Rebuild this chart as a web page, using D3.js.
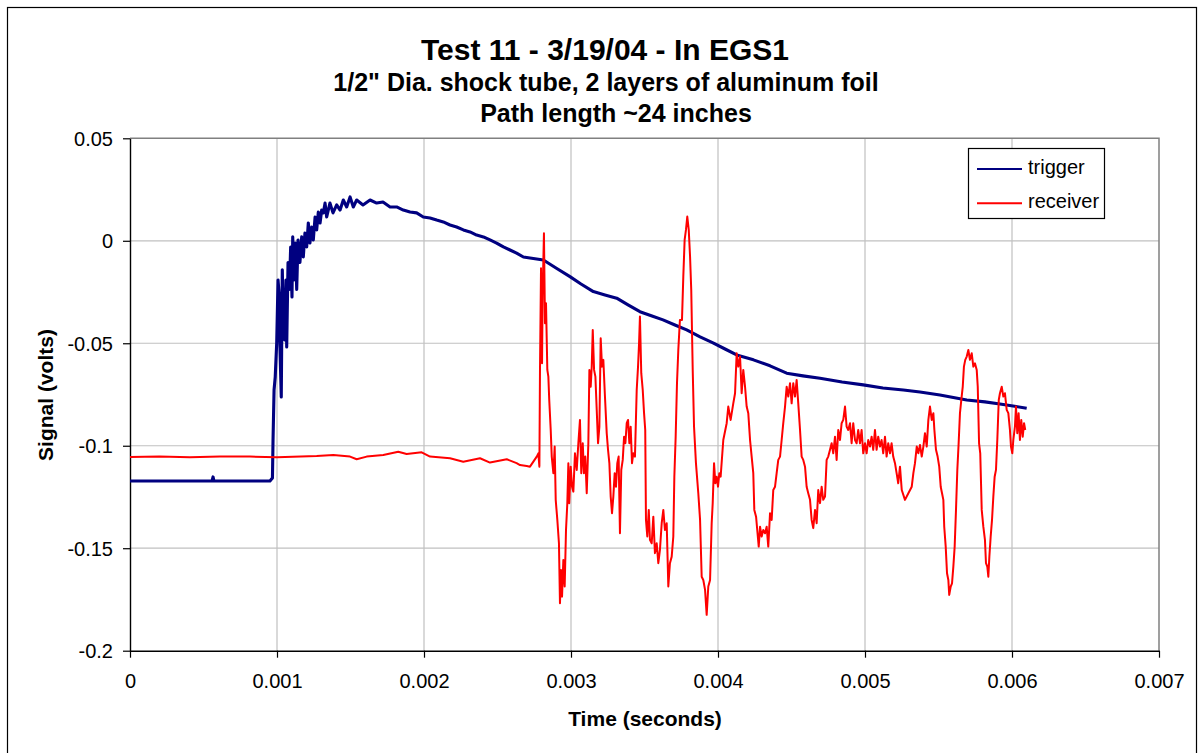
<!DOCTYPE html>
<html>
<head>
<meta charset="utf-8">
<script src="https://cdn.jsdelivr.net/npm/d3@7"></script>
<style>
  body { margin: 0; background: #fff; }
  svg { font-family: "Liberation Sans", Arial, sans-serif; }
  .tick text { font-size: 20px; fill: #000; }
</style>
</head>
<body>
<script>
// titles and labels
var titleLines = ["Test 11 - 3/19/04 - In EGS1", "1/2\" Dia. shock tube, 2 layers of aluminum foil", "Path length ~24 inches"];
var xTitle = "Time (seconds)";
var yTitle = "Signal (volts)";
var seriesNames = ["trigger", "receiver"];
var seriesColors = ["#000080", "#ff0000"];
var xTicks = [0, 0.001, 0.002, 0.003, 0.004, 0.005, 0.006, 0.007];
var yTicks = [-0.2, -0.15, -0.1, -0.05, 0, 0.05];

// trigger : time in microseconds, signal in millivolts
var triggerTimeUs = [0, 558, 565, 571, 952, 969, 973, 980, 988, 998, 1007, 1014, 1020, 1029, 1036, 1043, 1052, 1061, 1066, 1075,
  1084, 1093, 1102, 1107, 1116, 1125, 1134, 1143, 1156, 1168, 1179, 1190, 1202, 1213, 1224, 1236, 1247, 1259, 1270, 1281,
  1293, 1304, 1315, 1327, 1338, 1360, 1381, 1406, 1429, 1451, 1474, 1497, 1519, 1542, 1585, 1633, 1678, 1721, 1769, 1814,
  1859, 1905, 1950, 1995, 2041, 2086, 2131, 2177, 2222, 2268, 2313, 2358, 2404, 2449, 2494, 2540, 2585, 2630, 2676, 2721,
  2812, 2898, 2993, 3068, 3152, 3231, 3311, 3388, 3469, 3551, 3626, 3707, 3787, 3878, 3966, 4048, 4127, 4241, 4354, 4467,
  4578, 4694, 4844, 4988, 5122, 5261, 5374, 5510, 5692, 5816, 5918, 6007, 6100];
var triggerMv = [-117.2, -117.2, -115.2, -117.2, -117.2, -115.7, -97.2, -72.8, -66.4, -49.8, -19.1, -25.5, -51.8, -76.2, -14.2, -38.6, -48.4, -19.1, -51.8, -10.6,
  -23.8, -3.0, -27.4, 1.9, -19.1, -1.1, -23.8, 0.4, -10.6, 1.9, -7.9, 3.8, -3.0, 8.7, -1.1, 6.7, 0.4, 11.6, 5.3, 14.0,
  8.7, 15.0, 13.6, 18.4, 11.6, 18.4, 13.6, 17.5, 15.0, 19.9, 16.5, 21.4, 16.5, 19.9, 17.5, 19.9, 18.4, 18.9, 16.5, 16.5,
  15.0, 14.0, 13.6, 11.6, 11.1, 10.1, 9.2, 7.7, 6.7, 5.3, 4.3, 2.8, 1.9, 0.4, -1.1, -3.0, -4.5, -6.0, -7.9, -8.4,
  -9.4, -13.3, -17.5, -21.1, -24.8, -26.4, -28.0, -31.3, -34.6, -36.7, -38.6, -41.1, -43.5, -46.9, -49.8, -52.8, -55.7, -58.1, -61.0, -64.6,
  -65.9, -67.1, -68.9, -70.3, -71.8, -72.8, -73.8, -75.2, -77.7, -78.6, -79.6, -80.6, -81.7];

// receiver : time in microseconds, signal in millivolts
var receiverTimeUs = [0, 200, 408, 612, 816, 1000, 1270, 1383, 1497, 1542, 1610, 1723, 1825, 1882, 1984, 2041, 2177, 2267, 2381, 2449,
  2563, 2630, 2653, 2699, 2721, 2767, 2778, 2785, 2789, 2796, 2803, 2807, 2816, 2823, 2830, 2839, 2846, 2852, 2862, 2869,
  2880, 2889, 2896, 2907, 2918, 2925, 2932, 2939, 2948, 2957, 2966, 2975, 2982, 2988, 2998, 3007, 3016, 3027, 3039, 3050,
  3061, 3070, 3080, 3088, 3097, 3107, 3118, 3125, 3134, 3141, 3148, 3157, 3166, 3175, 3184, 3193, 3202, 3211, 3220, 3231,
  3243, 3252, 3261, 3270, 3279, 3288, 3297, 3306, 3315, 3324, 3333, 3342, 3352, 3361, 3370, 3379, 3388, 3397, 3406, 3415,
  3424, 3435, 3447, 3456, 3463, 3469, 3478, 3488, 3497, 3505, 3510, 3519, 3529, 3537, 3549, 3560, 3571, 3583, 3594, 3605,
  3617, 3628, 3639, 3651, 3662, 3673, 3685, 3696, 3703, 3712, 3721, 3730, 3741, 3755, 3764, 3773, 3782, 3791, 3801, 3810,
  3818, 3828, 3837, 3850, 3866, 3878, 3889, 3900, 3912, 3923, 3934, 3946, 3957, 3964, 3973, 3982, 3991, 4000, 4009, 4018,
  4036, 4059, 4070, 4086, 4104, 4116, 4127, 4138, 4150, 4161, 4172, 4184, 4195, 4206, 4218, 4229, 4240, 4247, 4259, 4267,
  4277, 4286, 4297, 4308, 4320, 4331, 4342, 4354, 4365, 4376, 4388, 4399, 4410, 4422, 4433, 4444, 4456, 4467, 4478, 4490,
  4501, 4512, 4524, 4535, 4546, 4558, 4569, 4580, 4592, 4603, 4614, 4626, 4637, 4648, 4660, 4671, 4682, 4694, 4705, 4716,
  4728, 4739, 4750, 4762, 4773, 4784, 4796, 4807, 4818, 4830, 4841, 4852, 4864, 4875, 4886, 4898, 4909, 4920, 4932, 4943,
  4954, 4966, 4977, 4988, 5000, 5011, 5022, 5034, 5045, 5056, 5068, 5079, 5090, 5102, 5113, 5124, 5136, 5147, 5158, 5170,
  5181, 5192, 5204, 5215, 5226, 5238, 5250, 5272, 5295, 5318, 5329, 5340, 5352, 5363, 5374, 5386, 5397, 5408, 5420, 5431,
  5442, 5454, 5465, 5472, 5483, 5494, 5505, 5515, 5524, 5533, 5539, 5549, 5558, 5567, 5573, 5583, 5592, 5601, 5610, 5619,
  5628, 5637, 5646, 5655, 5665, 5673, 5682, 5692, 5703, 5714, 5726, 5737, 5748, 5760, 5767, 5776, 5784, 5794, 5805, 5816,
  5823, 5832, 5839, 5846, 5855, 5864, 5873, 5882, 5891, 5900, 5910, 5918, 5930, 5941, 5952, 5964, 5975, 5986, 5993, 6002,
  6009, 6020, 6027, 6036, 6045, 6054, 6063, 6073, 6082, 6090];
var receiverMv = [-105.5, -105.3, -105.6, -105.2, -105.3, -105.6, -105.0, -104.5, -105.3, -106.6, -105.3, -104.5, -102.9, -104.0, -103.2, -105.3, -106.1, -107.8, -106.1, -108.2,
  -106.6, -108.5, -109.4, -109.9, -110.2, -105.3, -103.7, -110.2, -63.0, -13.4, -59.8, -25.6, 3.7, -40.2, -30.5, -63.0, -66.3, -77.7, -92.3, -105.3,
  -113.4, -100.4, -126.4, -136.2, -147.6, -176.8, -160.6, -173.6, -155.7, -168.7, -141.1, -128.0, -108.5, -128.0, -110.2, -120.0, -122.4, -103.7, -111.8, -98.8,
  -87.4, -113.4, -98.8, -113.4, -105.3, -123.2, -98.8, -63.0, -71.2, -61.4, -43.5, -63.0, -66.3, -82.5, -98.8, -90.7, -47.6, -61.4, -58.1, -76.0,
  -93.9, -102.0, -108.5, -124.8, -132.9, -124.8, -113.4, -120.0, -108.5, -105.3, -142.7, -111.8, -106.9, -95.6, -98.8, -89.0, -87.4, -98.8, -90.7, -108.5,
  -103.7, -105.3, -72.8, -61.4, -50.0, -37.0, -64.6, -72.8, -84.1, -92.3, -136.2, -144.3, -131.3, -145.9, -147.6, -134.6, -152.4, -147.6, -157.3, -150.8,
  -137.8, -131.3, -141.1, -137.8, -168.7, -157.3, -154.1, -144.3, -115.1, -95.6, -69.5, -53.3, -38.6, -38.6, -17.5, 0.4, 5.3, 11.8, 5.3, -7.8,
  -24.0, -63.0, -90.7, -108.5, -123.2, -136.2, -163.9, -165.5, -170.3, -182.5, -168.7, -165.5, -137.8, -128.0, -108.5, -118.3, -115.1, -120.0, -113.4, -115.1,
  -97.2, -89.0, -80.9, -87.4, -79.3, -74.4, -54.9, -61.4, -56.5, -74.4, -63.0, -71.2, -80.9, -84.1, -97.2, -105.3, -113.4, -131.3, -134.6, -141.1,
  -149.2, -139.5, -144.3, -141.1, -142.7, -139.5, -149.2, -132.9, -136.2, -121.6, -120.0, -113.4, -106.9, -105.3, -97.2, -89.0, -80.9, -71.2, -76.0, -69.5,
  -79.3, -69.5, -76.0, -67.9, -79.3, -92.3, -105.3, -106.9, -110.2, -120.0, -123.2, -126.4, -136.2, -140.2, -131.3, -137.8, -121.6, -128.0, -120.0, -126.4,
  -124.8, -106.9, -105.3, -102.0, -98.8, -103.7, -95.6, -106.9, -92.3, -97.2, -89.0, -87.4, -80.9, -90.7, -92.3, -89.0, -98.8, -89.0, -97.2, -98.8,
  -92.3, -98.8, -92.3, -103.7, -98.8, -103.7, -97.2, -100.4, -95.6, -102.0, -92.3, -102.0, -95.6, -100.4, -97.2, -103.7, -95.6, -105.3, -98.8, -103.7,
  -98.8, -105.3, -108.5, -113.4, -118.3, -110.2, -121.6, -126.4, -123.2, -120.0, -113.4, -108.5, -100.4, -103.7, -99.6, -105.3, -100.4, -93.9, -100.4, -87.4,
  -80.9, -87.4, -84.1, -92.3, -102.0, -105.3, -110.2, -120.0, -123.2, -126.4, -139.5, -149.2, -162.2, -165.5, -172.8, -168.7, -167.1, -159.0, -149.2, -131.3,
  -111.8, -98.8, -84.1, -77.7, -71.2, -61.4, -58.1, -56.5, -53.3, -58.1, -54.9, -61.4, -59.8, -63.0, -71.2, -98.8, -103.7, -131.3, -139.5, -145.9,
  -157.3, -159.0, -163.9, -154.1, -144.3, -136.2, -124.8, -115.1, -111.8, -97.2, -77.7, -74.4, -71.2, -76.0, -74.4, -82.5, -84.1, -92.3, -100.4, -103.7,
  -97.2, -90.7, -80.9, -93.9, -84.1, -97.2, -87.4, -95.6, -89.0, -92.3];

var W = 1202, H = 753;
var plot = {left: 130, right: 1159, top: 138.3, bottom: 650.7};

var svg = d3.select("body").append("svg")
    .attr("width", W)
    .attr("height", H);

// chart area border
svg.append("rect")
    .attr("x", 7.5).attr("y", 7.5)
    .attr("width", 1189).attr("height", 770)
    .attr("fill", "#fff")
    .attr("stroke", "#000")
    .attr("stroke-width", 1.2);

var x = d3.scaleLinear().domain([0, 0.007]).range([plot.left, plot.right]);
var y = d3.scaleLinear().domain([-0.2, 0.05]).range([plot.bottom, plot.top]);

// gridlines
svg.append("g").selectAll("line")
    .data(xTicks.slice(1, -1))
  .enter().append("line")
    .attr("x1", function(d) { return x(d); })
    .attr("x2", function(d) { return x(d); })
    .attr("y1", plot.top).attr("y2", plot.bottom)
    .attr("stroke", "#c0c0c0").attr("stroke-width", 1.2);
svg.append("g").selectAll("line")
    .data(yTicks.slice(1, -1))
  .enter().append("line")
    .attr("y1", function(d) { return y(d); })
    .attr("y2", function(d) { return y(d); })
    .attr("x1", plot.left).attr("x2", plot.right)
    .attr("stroke", "#c0c0c0").attr("stroke-width", 1.2);

// plot border top / right
svg.append("path")
    .attr("d", "M" + plot.left + "," + plot.top + "H" + plot.right + "V" + plot.bottom)
    .attr("fill", "none")
    .attr("stroke", "#808080")
    .attr("stroke-width", 1.5);

var fmt = function(d) { return String(+d.toFixed(4)); };

// axes
var gx = svg.append("g")
    .attr("transform", "translate(0," + plot.bottom + ")")
    .call(d3.axisBottom(x).tickValues(xTicks).tickFormat(fmt).tickSize(7).tickSizeOuter(0).tickPadding(16));
var gy = svg.append("g")
    .attr("transform", "translate(" + plot.left + ",0)")
    .call(d3.axisLeft(y).tickValues(yTicks).tickFormat(fmt).tickSize(7).tickSizeOuter(0).tickPadding(10));
[gx, gy].forEach(function(g) {
  g.attr("font-family", null).attr("font-size", null);
  g.select(".domain").attr("stroke", "#000").attr("stroke-width", 1.4);
  g.selectAll(".tick line").attr("stroke", "#000").attr("stroke-width", 1.2);
});
gy.selectAll(".tick text").attr("dy", "0.36em");

// series
var trigger = triggerTimeUs.map(function(t, i) { return [t / 1e6, triggerMv[i] / 1000]; });
var receiver = receiverTimeUs.map(function(t, i) { return [t / 1e6, receiverMv[i] / 1000]; });

var line = d3.line()
    .x(function(d) { return x(d[0]); })
    .y(function(d) { return y(d[1]); });

svg.append("path")
    .datum(trigger)
    .attr("d", line)
    .attr("fill", "none")
    .attr("stroke", seriesColors[0])
    .attr("stroke-width", 3.1)
    .attr("stroke-linejoin", "round");

svg.append("path")
    .datum(receiver)
    .attr("d", line)
    .attr("fill", "none")
    .attr("stroke", seriesColors[1])
    .attr("stroke-width", 2)
    .attr("stroke-linejoin", "round");

// titles
var titleX = [605, 606, 616];
var titleY = [60, 91, 122];
var titleSize = [30, 25, 25];
titleLines.forEach(function(t, i) {
  svg.append("text")
      .attr("x", titleX[i]).attr("y", titleY[i])
      .attr("text-anchor", "middle")
      .attr("font-weight", "bold")
      .attr("font-size", titleSize[i])
      .text(t);
});

svg.append("text")
    .attr("x", 645).attr("y", 726)
    .attr("text-anchor", "middle")
    .attr("font-weight", "bold")
    .attr("font-size", 21)
    .text(xTitle);

svg.append("text")
    .attr("transform", "translate(53,395) rotate(-90)")
    .attr("text-anchor", "middle")
    .attr("font-weight", "bold")
    .attr("font-size", 21)
    .text(yTitle);

// legend
var legend = svg.append("g");
legend.append("rect")
    .attr("x", 968.5).attr("y", 148.5)
    .attr("width", 136).attr("height", 70)
    .attr("fill", "#fff")
    .attr("stroke", "#000")
    .attr("stroke-width", 1.2);
seriesNames.forEach(function(name, i) {
  var ly = 169 + i * 34.3;
  legend.append("line")
      .attr("x1", 977).attr("x2", 1022)
      .attr("y1", ly).attr("y2", ly)
      .attr("stroke", seriesColors[i])
      .attr("stroke-width", 2);
  legend.append("text")
      .attr("x", 1028).attr("y", ly + 5)
      .attr("font-size", 20)
      .text(name);
});
</script>
</body>
</html>
